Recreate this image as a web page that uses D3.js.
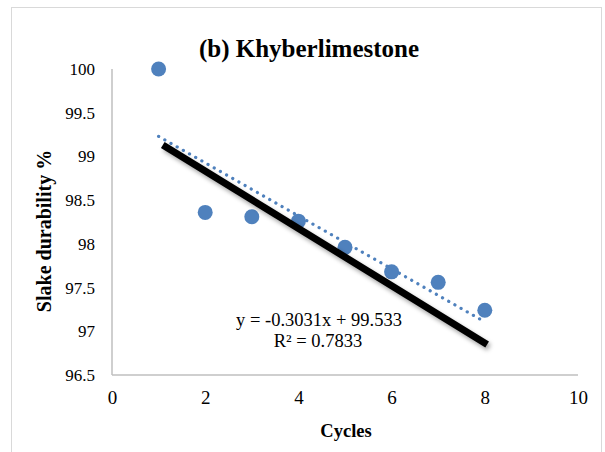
<!DOCTYPE html>
<html>
<head>
<meta charset="utf-8">
<script src="https://cdn.jsdelivr.net/npm/d3@7"></script>
<style>
  body { margin: 0; background: #fff; }
</style>
</head>
<body>
<svg id="chart" width="605" height="452"></svg>
<script>
// data
var cycles = [1, 2, 3, 4, 5, 6, 7, 8];
var durability = [100, 98.36, 98.31, 98.26, 97.96, 97.68, 97.56, 97.24];
var xTicks = [0, 2, 4, 6, 8, 10];
var yTicks = [96.5, 97, 97.5, 98, 98.5, 99, 99.5, 100];
// linear trend from the label
var slope = -0.3031, intercept = 99.533;
// the thick black line drawn by hand over the chart
var handLine = [[1.09, 99.13], [8.05, 96.85]];

var FONT = "Liberation Serif, Times New Roman, Times, DejaVu Serif, serif";

var svg = d3.select("#chart");

// outer frame
svg.append("rect")
    .attr("x", 11.5).attr("y", 7.5)
    .attr("width", 590).attr("height", 460)
    .attr("fill", "#fff")
    .attr("stroke", "#d9d9d9");

var x = d3.scaleLinear().domain([0, 10]).range([112, 578]);
var y = d3.scaleLinear().domain([96.5, 100]).range([375, 69]);

var defs = svg.append("defs");
var f = defs.append("filter").attr("id", "shadow")
    .attr("x", "-20%").attr("y", "-20%").attr("width", "140%").attr("height", "140%");
f.append("feDropShadow")
    .attr("dx", 2).attr("dy", 3).attr("stdDeviation", 2)
    .attr("flood-color", "#000").attr("flood-opacity", 0.35);

// axes
var xAxis = d3.axisBottom(x).tickValues(xTicks).tickSize(0).tickPadding(16).tickFormat(d3.format("~g"));
var yAxis = d3.axisLeft(y).tickValues(yTicks).tickSize(0).tickPadding(17).tickFormat(d3.format("~g"));

var gx = svg.append("g").attr("transform", "translate(0," + y(96.5) + ")").call(xAxis);
var gy = svg.append("g").attr("transform", "translate(" + x(0) + ",0)").call(yAxis);

gx.attr("font-family", FONT).attr("font-size", 19);
gy.attr("font-family", FONT).attr("font-size", 17);
[gx, gy].forEach(function(g){
    g.select(".domain").attr("stroke", "#bfbfbf").attr("stroke-width", 1.5);
    g.selectAll("text").attr("fill", "#000");
});
gy.select(".domain").attr("d", "M0," + y(100) + "V" + y(96.5));
gx.select(".domain").attr("d", "M" + x(0) + ",0H" + x(10));

// points
svg.append("g").selectAll("circle")
    .data(cycles)
    .enter().append("circle")
    .attr("cx", function(d){ return x(d); })
    .attr("cy", function(d, i){ return y(durability[i]); })
    .attr("r", 7.5)
    .attr("fill", "#4f81bd");

// dotted trend line
svg.append("line")
    .attr("x1", x(1)).attr("y1", y(slope * 1 + intercept))
    .attr("x2", x(8)).attr("y2", y(slope * 8 + intercept))
    .attr("stroke", "#4f81bd")
    .attr("stroke-width", 3.2)
    .attr("stroke-linecap", "round")
    .attr("stroke-dasharray", "0.1 7");

// black line
svg.append("line")
    .attr("x1", x(handLine[0][0])).attr("y1", y(handLine[0][1]))
    .attr("x2", x(handLine[1][0])).attr("y2", y(handLine[1][1]))
    .attr("stroke", "#000")
    .attr("stroke-width", 7)
    .attr("filter", "url(#shadow)");

function label(px, py, txt, size, bold) {
    return svg.append("text")
        .attr("x", px).attr("y", py)
        .attr("text-anchor", "middle")
        .attr("font-family", FONT)
        .attr("font-size", size)
        .attr("font-weight", bold ? "bold" : "normal")
        .text(txt);
}

// equation
label(319, 326, "y = -0.3031x + 99.533", 18.5, false);
label(318, 347, "R² = 0.7833", 18.5, false);

// title
label(309, 57, "(b) Khyberlimestone", 25, true);

// axis titles
label(346, 437, "Cycles", 18.5, true);
label(0, 0, "Slake durability %", 20, true)
    .attr("transform", "translate(51,231) rotate(-90)");
</script>
</body>
</html>
